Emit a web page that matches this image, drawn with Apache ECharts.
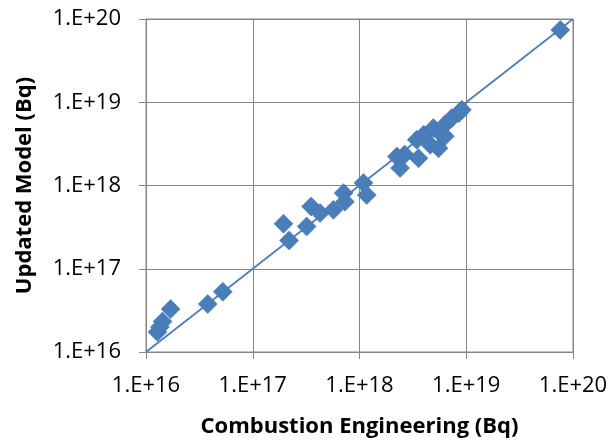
<!DOCTYPE html>
<html>
<head>
<meta charset="utf-8">
<script src="https://cdn.jsdelivr.net/npm/echarts@6/dist/echarts.min.js"></script>
<style>html,body{margin:0;padding:0;background:#fff}#c{width:612px;height:448px}</style>
</head>
<body>
<div id="c"></div>
<script>
// Combustion Engineering (Bq) values
const ceValues = [1.28e16, 1.35e16, 1.43e16, 1.70e16, 3.79e16, 5.24e16,
  1.94e17, 2.19e17, 3.2e17, 3.52e17, 4.27e17, 5.7e17, 7.1e17, 7.3e17, 1.09e18, 1.17e18,
  2.24e18, 2.4e18, 2.65e18, 3.57e18, 3.44e18, 4.0e18, 4.6e18, 4.93e18, 5.5e18, 5.9e18, 6.3e18, 6.3e18, 7.3e18, 8.5e18, 9.1e18,
  7.6e19];
// Updated Model (Bq) values
const modelValues = [1.74e16, 2.0e16, 2.33e16, 3.28e16, 3.77e16, 5.30e16,
  3.47e17, 2.19e17, 3.22e17, 5.6e17, 4.67e17, 5.1e17, 8.1e17, 6.4e17, 1.07e18, 7.7e17,
  2.23e18, 1.62e18, 2.35e18, 2.13e18, 3.54e18, 4.07e18, 3.08e18, 4.89e18, 2.81e18, 4.06e18, 5.36e18, 3.9e18, 6.44e18, 7.4e18, 8.1e18,
  7.4e19];
// 1:1 reference line
const lineX = [1e16, 1e20];
const lineY = [1e16, 1e20];
// axis range / tick labels
const axisMin = 1e16, axisMax = 1e20;
const xTitle = 'Combustion Engineering (Bq)';
const yTitle = 'Updated Model (Bq)';

const fmt = v => '1.E+' + Math.round(Math.log10(v));
const gray = '#868686';
const blue = '#4a7ebb';
const font = 'Open Sans';

function axis(name, gap, margin) {
  return {
    type: 'log', logBase: 10, min: axisMin, max: axisMax,
    name: name, nameLocation: 'middle', nameGap: gap,
    nameTextStyle: {fontFamily: font, fontWeight: 'bold', fontSize: 22, color: '#000'},
    axisLine: {show: true, lineStyle: {color: gray, width: 1}},
    axisTick: {show: true, inside: false, length: 7, lineStyle: {color: gray}},
    axisLabel: {formatter: fmt, fontFamily: font, fontSize: 22, color: '#000', margin: margin},
    splitLine: {show: true, lineStyle: {color: gray, width: 1}},
    minorTick: {show: false}, minorSplitLine: {show: false}
  };
}

const chart = echarts.init(document.getElementById('c'), null, {renderer: 'canvas'});
chart.setOption({
  animation: false,
  backgroundColor: '#fff',
  grid: {left: 146, right: 39, top: 19, bottom: 96, show: true, borderColor: gray, borderWidth: 1},
  xAxis: axis(xTitle, 64, 23),
  yAxis: axis(yTitle, 110, 25),
  series: [
    {
      type: 'line', data: lineX.map((x, i) => [x, lineY[i]]),
      showSymbol: false, symbol: 'none',
      lineStyle: {color: blue, width: 1.75}, z: 2
    },
    {
      type: 'scatter', data: ceValues.map((x, i) => [x, modelValues[i]]),
      symbol: 'diamond', symbolSize: 19,
      itemStyle: {color: blue, borderColor: '#3f6fa8', borderWidth: 0.5, opacity: 1}, z: 3
    }
  ]
});
</script>
</body>
</html>
